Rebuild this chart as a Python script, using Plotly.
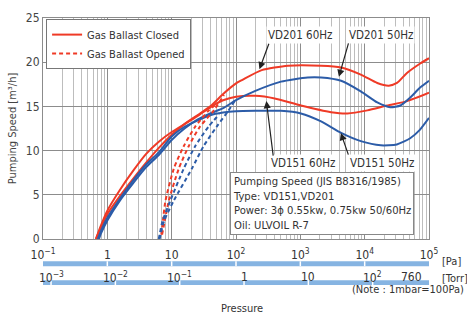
import math
import plotly.graph_objects as go

# ---------------- data (pressure in Pa, speed in m3/h) ----------------
vd201_60_p = [0.665, 0.794, 1.0, 1.585, 2.512, 3.98, 6.31, 10, 15.85, 25.1, 39.8, 63.1, 100, 126, 251, 640, 2100, 4300, 8700, 15700, 23700, 31800, 45000, 73000, 100000]
vd201_60_s = [0, 1.3, 2.8, 4.9, 6.8, 8.6, 10.3, 11.8, 13.0, 14.0, 15.0, 16.4, 17.6, 18.0, 19.1, 19.6, 19.6, 19.4, 18.6, 17.65, 17.35, 17.65, 18.75, 19.85, 20.45]

vd151_60_p = [0.665, 0.794, 1.0, 1.585, 2.512, 3.98, 6.31, 10, 15.85, 25.1, 39.8, 63.1, 100, 200, 400, 1020, 3000, 5400, 11000, 22400, 45700, 100000]
vd151_60_s = [0, 1.5, 3.2, 5.6, 7.7, 9.6, 11.0, 12.1, 13.0, 13.9, 14.9, 15.7, 16.1, 16.2, 15.9, 15.1, 14.35, 14.2, 14.55, 15.1, 15.6, 16.55]

vd201_50_p = [0.741, 0.794, 1.0, 1.585, 2.512, 3.98, 6.31, 10, 15.85, 25.1, 39.8, 63.1, 100, 200, 500, 1300, 2100, 4300, 8700, 15700, 25000, 36000, 51000, 72000, 100000]
vd201_50_s = [0, 0.6, 2.1, 4.4, 6.3, 8.1, 9.5, 11.2, 12.5, 13.5, 14.2, 14.8, 15.7, 16.75, 17.8, 18.27, 18.27, 17.9, 16.7, 15.45, 14.9, 15.1, 16.0, 17.1, 17.9]

vd151_50_p = [0.708, 0.794, 1.0, 1.585, 2.512, 3.98, 6.31, 10, 15.85, 25.1, 39.8, 63.1, 100, 200, 500, 1020, 2100, 4300, 8700, 17800, 31600, 51000, 72000, 100000]
vd151_50_s = [0, 0.9, 2.4, 4.6, 6.6, 8.4, 9.8, 11.6, 12.7, 13.4, 14.0, 14.3, 14.45, 14.5, 14.5, 14.2, 13.3, 12.0, 11.07, 10.6, 10.7, 11.4, 12.35, 13.7]

# gas ballast opened (dashed)
gb_red_a_p = [6.9, 7.2, 8.0, 10.8, 15.4, 23.2, 37.3, 52]
gb_red_a_s = [0.5, 1.6, 4.3, 7.96, 10.5, 12.7, 14.5, 15.4]
gb_red_b_p = [7.1, 7.6, 9.0, 12.9, 18.4, 27.5, 44.7, 65]
gb_red_b_s = [0.5, 1.6, 4.3, 7.96, 10.5, 12.7, 14.5, 16.3]
gb_blue_c_p = [6.3, 7.2, 9.5, 15.4, 23.2, 37.3, 55]
gb_blue_c_s = [0, 2.0, 4.3, 7.96, 10.5, 12.7, 14.1]
gb_blue_d_p = [6.5, 7.6, 10.7, 20.6, 31.3, 50, 76, 95]
gb_blue_d_s = [0, 2.0, 4.3, 7.96, 10.5, 12.7, 14.5, 15.6]

pa_ticks = [0.1, 1, 10, 100, 1000, 10000, 100000]
pa_ticktext = ["10<sup>−1</sup>", "1", "10", "10<sup>2</sup>", "10<sup>3</sup>", "10<sup>4</sup>", "10<sup>5</sup>"]
torr_ticks = [1e-3, 1e-2, 1e-1, 1, 10, 100, 760]
torr_ticktext = ["10<sup>−3</sup>", "10<sup>−2</sup>", "10<sup>−1</sup>", "1", "10", "10<sup>2</sup>", "760"]
TORR_TO_PA = 133.322

RED = "#ef3a26"
BLUE = "#2c5ca8"
BAR = "#86b4e2"
FONT = "DejaVu Sans Condensed, Liberation Sans, sans-serif"
TXT = "#333"

fig = go.Figure()

def add(p, s, color, dash, name=None, show=False):
    fig.add_trace(go.Scatter(
        x=p, y=s, mode="lines", name=name, showlegend=show,
        line=dict(color=color, width=2, dash=dash, shape="spline", smoothing=0.6),
        hoverinfo="skip"))

add(vd201_60_p, vd201_60_s, RED, "solid", "Gas Ballast Closed", True)
add(vd151_60_p, vd151_60_s, RED, "solid")
add(vd201_50_p, vd201_50_s, BLUE, "solid")
add(vd151_50_p, vd151_50_s, BLUE, "solid")
add(gb_red_a_p, gb_red_a_s, RED, "4px,3px", "Gas Ballast Opened", True)
add(gb_red_b_p, gb_red_b_s, RED, "4px,3px")
add(gb_blue_c_p, gb_blue_c_s, BLUE, "4px,3px")
add(gb_blue_d_p, gb_blue_d_s, BLUE, "4px,3px")

minor_vals = [m * 10 ** k for k in range(-1, 5) for m in range(2, 10)]

fig.update_layout(
    width=467, height=319,
    margin=dict(l=40, r=38, t=11, b=80),
    paper_bgcolor="white", plot_bgcolor="white",
    font=dict(family=FONT, size=11, color=TXT),
    xaxis=dict(type="log", range=[-1, 5], tickmode="array", tickvals=pa_ticks, ticktext=pa_ticktext,
               showgrid=True, gridcolor="#8c8c8c", gridwidth=1,
               minor=dict(tickmode="array", tickvals=minor_vals, showgrid=True, gridcolor="#bdbdbd", ticks=""),
               showline=True, linecolor="#8c8c8c", mirror=True, ticks="", zeroline=False,
               tickfont=dict(size=12, color=TXT), ticklabelstandoff=5),
    yaxis=dict(range=[0, 25], tickmode="array", tickvals=[0, 5, 10, 15, 20, 25],
               showgrid=True, gridcolor="#8c8c8c", showline=True, linecolor="#8c8c8c", mirror=True,
               ticks="", zeroline=False, tickfont=dict(size=12, color="#444"),
               title=dict(text="Pumping Speed [m³/h]", font=dict(size=11, color="#444"), standoff=7)),
    legend=dict(x=0.008, y=0.995, xanchor="left", yanchor="top", bgcolor="white",
                bordercolor="#777", borderwidth=1, font=dict(size=11, color=TXT),
                tracegroupgap=0, itemwidth=30),
    showlegend=True,
)

# ---------------- pressure scale bars ----------------
def py2paper(py):
    return (239 - py) / 228

def px2paper(px):
    return (px - 40) / 389

for y0, y1 in [(py2paper(262), py2paper(267)), (py2paper(281.5), py2paper(286.5))]:
    fig.add_shape(type="rect", xref="x", yref="paper", x0=0.1, x1=1e5, y0=y0, y1=y1,
                  fillcolor=BAR, line=dict(width=0), layer="above")
for v in pa_ticks[1:-1]:
    fig.add_shape(type="line", xref="x", yref="paper", x0=v, x1=v,
                  y0=py2paper(262), y1=py2paper(267), line=dict(color="white", width=1.5))
for t in torr_ticks[:-1]:
    v = t * TORR_TO_PA
    fig.add_shape(type="line", xref="x", yref="paper", x0=v, x1=v,
                  y0=py2paper(281.5), y1=py2paper(286.5), line=dict(color="white", width=1.5))

for t, txt in zip(torr_ticks, torr_ticktext):
    v = min(math.log10(t * TORR_TO_PA), 5.0)
    last = t == torr_ticks[-1]
    fig.add_annotation(x=v, xref="x", y=py2paper(278), yref="paper", text=txt, showarrow=False,
                       xanchor="right" if last else "center", yanchor="middle",
                       xshift=-5 if last else 0, font=dict(size=12, color=TXT))

for txt, px, py, xa in [("[Pa]", 440, 262, "left"), ("[Torr]", 440, 280, "left"),
                        ("(Note : 1mbar=100Pa)", 466, 291, "right"), ("Pressure", 241, 311, "center")]:
    fig.add_annotation(x=px2paper(px), y=py2paper(py), xref="paper", yref="paper", text=txt,
                       showarrow=False, xanchor=xa, yanchor="middle", font=dict(size=11, color=TXT))

# ---------------- info box ----------------
fig.add_annotation(x=px2paper(228), y=py2paper(235), xref="paper", yref="paper",
                   xanchor="left", yanchor="bottom", align="left", showarrow=False,
                   text="Pumping Speed (JIS B8316/1985)<br>Type: VD151,VD201<br>Power: 3ϕ 0.55kw, 0.75kw 50/60Hz<br>Oil: ULVOIL R-7",
                   bgcolor="white", bordercolor="#888", borderwidth=1, borderpad=2,
                   font=dict(size=11.2, color=TXT))

# ---------------- curve labels with arrows ----------------
labels = [
    ("VD201 60Hz", 1000, 23.06, 2.364, 19.2, 10, -27),
    ("VD201 50Hz", 17700, 23.06, 3.599, 18.34, 10, -35),
    ("VD151 60Hz", 1100, 8.59, 2.472, 15.6, 7, 56),
    ("VD151 50Hz", 18300, 8.59, 3.630, 11.98, 8, 23),
]
for txt, lx, ly, tx, ty, ax, ay in labels:
    fig.add_annotation(x=math.log10(lx), y=ly, xref="x", yref="y", text=txt, showarrow=False,
                       yanchor="middle", bgcolor="white", borderpad=1, font=dict(size=11.5, color=TXT))
    fig.add_annotation(x=tx, y=ty, xref="x", yref="y", text="", showarrow=True,
                       ax=ax, ay=ay, arrowhead=2, arrowsize=1.2, arrowwidth=1.2, arrowcolor="#222")

fig.write_html("out.html", config={"displayModeBar": False},
               post_script="document.body.style.margin='0';document.body.style.overflow='hidden';")
